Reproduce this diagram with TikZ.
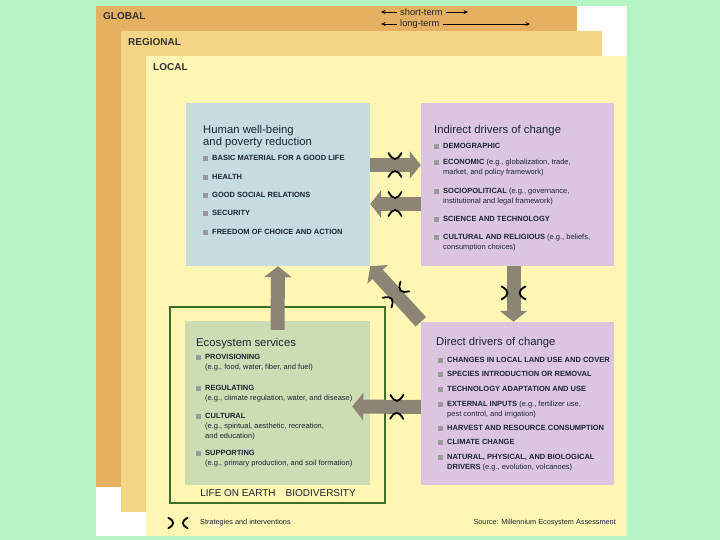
\documentclass[tikz,border=0pt]{standalone}
\usepackage{fontspec}
\setmainfont{Liberation Sans}
\usetikzlibrary{arrows.meta, positioning, calc}

\definecolor{bggreen}{HTML}{B5F5C5}
\definecolor{globalc}{HTML}{E5B160}
\definecolor{regionalc}{HTML}{F4D586}
\definecolor{localc}{HTML}{FFF6B3}
\definecolor{humanc}{HTML}{C6DCE1}
\definecolor{lilac}{HTML}{DBC5DF}
\definecolor{ecoc}{HTML}{CDDDB3}
\definecolor{framec}{HTML}{3A6E2A}
\definecolor{arrowgrey}{HTML}{8C8575}
\definecolor{bulletgrey}{HTML}{9A9A9A}
\definecolor{ink}{HTML}{1C2433}

\newcommand{\sqbullet}{\llap{\textcolor{bulletgrey}{\rule{5pt}{5pt}}\hspace{4pt}}}

\begin{document}
\begin{tikzpicture}[x=1pt, y=-1pt,
    panel/.style={anchor=north west, inner sep=0pt, minimum width=481pt, minimum height=481pt},
    level/.style={anchor=west, inner sep=0pt, font=\fontsize{10}{10}\selectfont\bfseries, text=black!80},
    box/.style={inner sep=0pt},
    title/.style={anchor=north west, inner sep=0pt, align=left, font=\fontsize{11.3}{11.5}\selectfont, text=ink},
    item/.style={anchor=north west, inner sep=0pt, yshift=2.8pt, align=left, font=\fontsize{7.5}{10}\selectfont, text=ink},
    small/.style={inner sep=0pt, font=\fontsize{7.3}{9}\selectfont, text=ink},
    bigarrow/.style={draw=arrowgrey, line width=14pt, -{Triangle[length=11pt, width=27pt]}},
    thinarrow/.style={draw=black, line width=0.7pt, -{Stealth[length=4.5pt, width=4pt]}},
    strat/.pic={
        \draw[black, line width=1.8pt, line cap=round, -] (-6.5,-12) .. controls (-2,-4) and (2,-4) .. (6.5,-12);
        \draw[black, line width=1.8pt, line cap=round, -] (-6.5,12) .. controls (-2,4) and (2,4) .. (6.5,12);
    }]
    \useasboundingbox (0,0) rectangle (720,540);
    \fill[bggreen] (0,0) rectangle (720,540);
    \fill[white] (96,6) rectangle (627,536);

    % Levels
    \node[panel, fill=globalc] (global) at (96,6) {};
    \node[panel, fill=regionalc] (regional) at (121,31) {};
    \node[panel, fill=localc, minimum height=480pt] (local) at (146,56) {};
    \node[level] (lglobal) at (103,16) {GLOBAL};
    \node[level] (lregional) at (128,42) {REGIONAL};
    \node[level] (llocal) at (153,67) {LOCAL};

    % Time scales
    \node[small, anchor=west, font=\fontsize{9.3}{10}\selectfont] (st) at (400,12) {short-term};
    \node[small, anchor=west, font=\fontsize{9.3}{10}\selectfont] (lt) at (400,24) {long-term};
    \coordinate (stL) at (381,12);
    \coordinate (stR) at (468,12);
    \coordinate (ltL) at (381,24);
    \coordinate (ltR) at (530,24);
    \draw[thinarrow] ([xshift=-3pt]st.west) -- (stL);
    \draw[thinarrow] ([xshift=3pt]st.east) -- (stR);
    \draw[thinarrow] ([xshift=-3pt]lt.west) -- (ltL);
    \draw[thinarrow] ([xshift=3pt]lt.east) -- (ltR);

    % Boxes
    \node[draw=framec, line width=1.4pt, minimum width=215pt, minimum height=196pt] (earth) at (277.5,405) {};
    \node[box, fill=humanc, minimum width=184pt, minimum height=163pt] (human) at (278,184.5) {};
    \node[box, fill=lilac, minimum width=193pt, minimum height=163pt] (indirect) at (517.5,184.5) {};
    \node[box, fill=lilac, minimum width=193pt, minimum height=163pt] (direct) at (517.5,403.5) {};
    \node[box, fill=ecoc, minimum width=185pt, minimum height=164pt] (eco) at (277.5,403) {};
    \node[inner sep=0pt, font=\fontsize{10}{10}\selectfont, text=ink] (life) at (278,493) {LIFE ON EARTH\quad BIODIVERSITY};

    % Human well-being
    \node[title] (htitle) at (203,125.5) {Human well-being\\and poverty reduction};
    \node[item] (h1) at (212,158) {\sqbullet\textbf{BASIC MATERIAL FOR A GOOD LIFE}};
    \node[item] (h2) at (212,177) {\sqbullet\textbf{HEALTH}};
    \node[item] (h3) at (212,195) {\sqbullet\textbf{GOOD SOCIAL RELATIONS}};
    \node[item] (h4) at (212,213) {\sqbullet\textbf{SECURITY}};
    \node[item] (h5) at (212,232) {\sqbullet\textbf{FREEDOM OF CHOICE AND ACTION}};

    % Indirect drivers
    \node[title] (ititle) at (434,125) {Indirect drivers of change};
    \node[item] (i1) at (443,146) {\sqbullet\textbf{DEMOGRAPHIC}};
    \node[item] (i2) at (443,162) {\sqbullet\textbf{ECONOMIC} (e.g., globalization, trade,\\market, and policy framework)};
    \node[item] (i3) at (443,191) {\sqbullet\textbf{SOCIOPOLITICAL} (e.g., governance,\\institutional and legal framework)};
    \node[item] (i4) at (443,219) {\sqbullet\textbf{SCIENCE AND TECHNOLOGY}};
    \node[item] (i5) at (443,237) {\sqbullet\textbf{CULTURAL AND RELIGIOUS} (e.g., beliefs,\\consumption choices)};

    % Ecosystem services
    \node[title] (etitle) at (196,338) {Ecosystem services};
    \node[item] (e1) at (205,357) {\sqbullet\textbf{PROVISIONING}\\(e.g., food, water, fiber, and fuel)};
    \node[item] (e2) at (205,388) {\sqbullet\textbf{REGULATING}\\(e.g., climate regulation, water, and disease)};
    \node[item] (e3) at (205,416) {\sqbullet\textbf{CULTURAL}\\(e.g., spiritual, aesthetic, recreation,\\and education)};
    \node[item] (e4) at (205,453) {\sqbullet\textbf{SUPPORTING}\\(e.g., primary production, and soil formation)};

    % Direct drivers
    \node[title] (dtitle) at (436,337) {Direct drivers of change};
    \node[item] (d1) at (447,360) {\sqbullet\textbf{CHANGES IN LOCAL LAND USE AND COVER}};
    \node[item] (d2) at (447,374) {\sqbullet\textbf{SPECIES INTRODUCTION OR REMOVAL}};
    \node[item] (d3) at (447,389) {\sqbullet\textbf{TECHNOLOGY ADAPTATION AND USE}};
    \node[item] (d4) at (447,404) {\sqbullet\textbf{EXTERNAL INPUTS} (e.g., fertilizer use,\\pest control, and irrigation)};
    \node[item] (d5) at (447,428) {\sqbullet\textbf{HARVEST AND RESOURCE CONSUMPTION}};
    \node[item] (d6) at (447,442) {\sqbullet\textbf{CLIMATE CHANGE}};
    \node[item] (d7) at (447,457) {\sqbullet\textbf{NATURAL, PHYSICAL, AND BIOLOGICAL}\\\textbf{DRIVERS} (e.g., evolution, volcanoes)};

    % Arrows with strategies
    \draw[bigarrow] ([yshift=19.5pt]human.east) -- ([yshift=19.5pt]indirect.west) pic[pos=0.49, sloped] {strat};
    \draw[bigarrow] ([yshift=-19.5pt]indirect.west) -- ([yshift=-19.5pt]human.east) pic[pos=0.51, sloped] {strat};
    \draw[bigarrow] ([xshift=-4pt]indirect.south) -- ([xshift=-4pt]direct.north) pic[pos=0.48, sloped] {strat};
    \draw[bigarrow] (direct.north west) -- (human.south east) pic[pos=0.49, sloped] {strat};
    \draw[bigarrow] ([yshift=-9pt]eco.north) -- (human.south);
    \coordinate (ecoin) at ([xshift=-18pt, yshift=-3.5pt]eco.east);
    \draw[bigarrow] ([yshift=-3.5pt]direct.west) -- (ecoin) pic[pos=0.35, sloped] {strat};

    % Legend
    \pic[rotate=90, scale=0.8] at (178,523) {strat};
    \node[small, anchor=west] (legend) at (200,523) {Strategies and interventions};
    \node[small, anchor=east] (source) at (616,523) {Source: Millennium Ecosystem Assessment};
\end{tikzpicture}
\end{document}
